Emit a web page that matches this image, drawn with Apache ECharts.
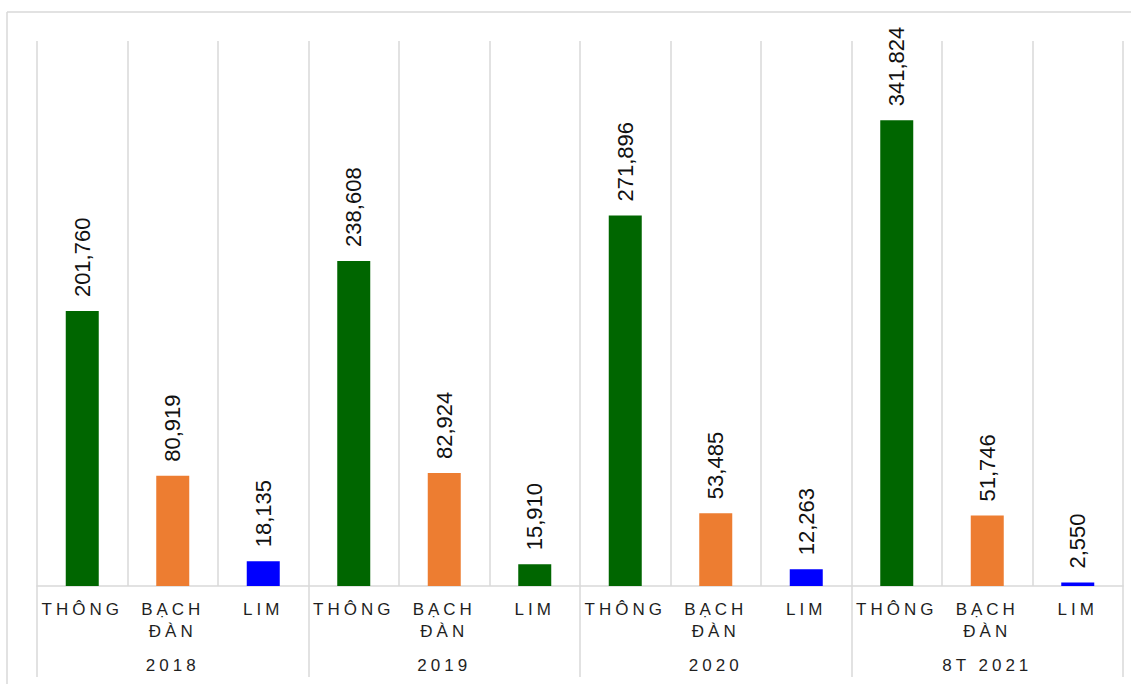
<!DOCTYPE html>
<html>
<head>
<meta charset="utf-8">
<title>THÔNG, BẠCH ĐÀN, LIM 2018 – 8T 2021</title>
<script src="https://cdn.jsdelivr.net/npm/echarts@6/dist/echarts.min.js"></script>
<style>
  html, body { margin: 0; padding: 0; background: #fff; }
  #main { width: 1140px; height: 684px; }
  /* axis labels (17px) are set with wide tracking */
  #main text[style*="17px"] { letter-spacing: 4px; }
</style>
</head>
<body>
<div id="main"></div>
<script>
// Groups along the bottom and the wood types inside each group
const years = ['2018', '2019', '2020', '8T 2021'];
const species = ['THÔNG', 'BẠCH\nĐÀN', 'LIM'];

// Values per bar, in group order (THÔNG, BẠCH ĐÀN, LIM for each year)
const values2018 = [201760, 80919, 18135];
const values2019 = [238608, 82924, 15910];
const values2020 = [271896, 53485, 12263];
const values2021 = [341824, 51746, 2550];

// Bar fill per position
const GREEN = '#006600', ORANGE = '#ED7D31', BLUE = '#0000FF';
const barColors = [
  GREEN, ORANGE, BLUE,
  GREEN, ORANGE, GREEN,
  GREEN, ORANGE, BLUE,
  GREEN, ORANGE, BLUE
];

const values = [].concat(values2018, values2019, values2020, values2021);
const categories = [];
years.forEach(() => species.forEach(s => categories.push(s)));

const GRID = '#d9d9d9';
const chart = echarts.init(document.getElementById('main'), null, { renderer: 'svg' });

chart.setOption({
  animation: false,
  backgroundColor: '#fff',
  grid: { left: 37, right: 17, top: 41, bottom: 98 },
  xAxis: [
    {
      type: 'category',
      data: categories,
      position: 'bottom',
      axisLine: { show: true, lineStyle: { color: GRID, width: 1.5 } },
      axisTick: { show: false },
      splitLine: { show: true, interval: 0, lineStyle: { color: GRID, width: 1.5 } },
      axisLabel: {
        interval: 0,
        margin: 12,
        fontSize: 17,
        lineHeight: 22,
        color: '#1f1f1f',
        fontFamily: 'Liberation Sans'
      }
    },
    {
      type: 'category',
      data: years,
      position: 'bottom',
      axisLine: { show: false },
      axisTick: { show: true, length: 91, lineStyle: { color: GRID, width: 1.5 } },
      splitLine: { show: false },
      axisLabel: {
        interval: 0,
        margin: 71,
        fontSize: 17,
        color: '#1f1f1f',
        fontFamily: 'Liberation Sans'
      }
    }
  ],
  yAxis: {
    type: 'value',
    min: 0,
    max: 400000,
    show: false,
    splitLine: { show: false }
  },
  series: [{
    type: 'bar',
    xAxisIndex: 0,
    barWidth: 33,
    data: values.map((v, i) => ({ value: v, itemStyle: { color: barColors[i] } })),
    label: {
      show: true,
      position: 'top',
      rotate: 90,
      align: 'left',
      verticalAlign: 'middle',
      distance: 14,
      fontSize: 22,
      color: '#111',
      fontFamily: 'Arial',
      formatter: p => p.value.toLocaleString('en-US')
    }
  }],
  graphic: [
    { type: 'line', shape: { x1: 7, y1: 12, x2: 1131, y2: 12 }, style: { stroke: GRID, lineWidth: 1.5 } },
    { type: 'line', shape: { x1: 7, y1: 12, x2: 7, y2: 684 }, style: { stroke: GRID, lineWidth: 1.5 } }
  ]
});
</script>
</body>
</html>
